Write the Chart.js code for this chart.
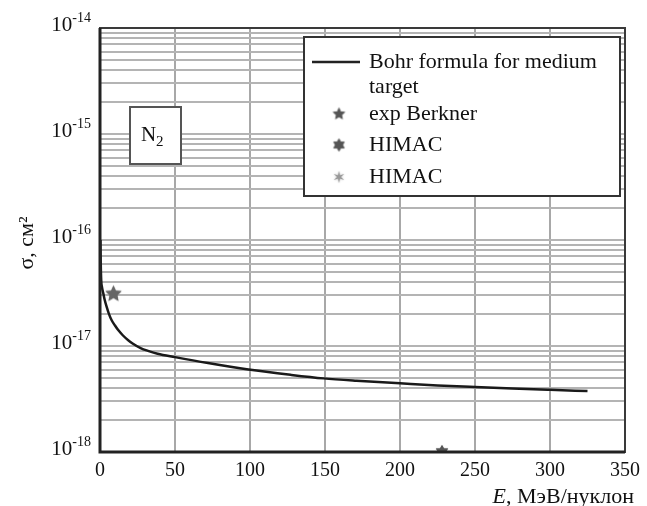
<!DOCTYPE html>
<html>
<head>
<meta charset="utf-8">
<script src="https://cdn.jsdelivr.net/npm/chart.js@4"></script>
<style>
  html, body { margin: 0; padding: 0; background: #fff; }
  #wrap { width: 647px; height: 506px; position: relative; }
</style>
</head>
<body>
<div id="wrap"><canvas id="sigmaChart" width="647" height="506"></canvas></div>
<script>
// Bohr formula curve, E in MeV/nucleon, sigma in cm^2
const bohrE = [0.3, 0.5, 0.8, 1.3, 2.2, 3.2, 4.4, 6, 7.7, 10, 12, 15, 18.6, 22, 27.4, 32, 38.4, 50, 72, 99, 127, 149, 171, 200, 225, 250, 275, 300, 325];
const bohrSigma = [1e-16, 6.0e-17, 4.2e-17, 3.6e-17, 3.14e-17, 2.7e-17, 2.35e-17, 2.0e-17, 1.76e-17, 1.56e-17, 1.42e-17, 1.27e-17, 1.14e-17, 1.05e-17, 9.5e-18, 9.0e-18, 8.45e-18, 7.85e-18, 6.9e-18, 6.0e-18, 5.35e-18, 4.95e-18, 4.7e-18, 4.45e-18, 4.25e-18, 4.1e-18, 3.97e-18, 3.86e-18, 3.76e-18];

// experimental points
const berknerE = [9];
const berknerSigma = [3.1e-17];
const himacE = [228];
const himacSigma = [1.0e-18];
const himac2E = [];
const himac2Sigma = [];

const seriesLabels = ['Bohr formula for medium target', 'exp Berkner', 'HIMAC', 'HIMAC'];
const xTicks = [0, 50, 100, 150, 200, 250, 300, 350];
const yDecades = [-18, -17, -16, -15, -14];
const yMantissas = [1, 2, 3, 4, 5, 6, 7, 8, 9];

const SERIF = '"Liberation Serif", "Times New Roman", serif';

// little bitmap markers for the stars
function makeStar(n, outer, inner, color, blur) {
  const c = document.createElement('canvas');
  const s = Math.ceil(outer * 2 + 4);
  c.width = s; c.height = s;
  const g = c.getContext('2d');
  g.fillStyle = color;
  if (blur) { g.shadowColor = color; g.shadowBlur = blur; }
  g.beginPath();
  for (let i = 0; i < n * 2; i++) {
    const r = i % 2 === 0 ? outer : inner;
    const a = -Math.PI / 2 + i * Math.PI / n;
    const px = s / 2 + r * Math.cos(a), py = s / 2 + r * Math.sin(a);
    i === 0 ? g.moveTo(px, py) : g.lineTo(px, py);
  }
  g.closePath();
  g.fill();
  return c;
}
const starBerkner = makeStar(5, 8.5, 4, '#666', 1);
const starHimac = makeStar(6, 7, 4, '#555', 1);
const starHimac2 = makeStar(6, 6, 2, '#9a9a9a', 2);
const legStar1 = makeStar(5, 6.5, 3, '#555', 1);
const legStar2 = makeStar(6, 6.5, 3.8, '#555', 1);
const legStar3 = makeStar(6, 6, 1.8, '#999', 2);

const toPts = (xs, ys) => xs.map((v, i) => ({ x: v, y: ys[i] }));

const overlay = {
  id: 'overlay',
  afterDraw(chart) {
    const { ctx, chartArea: a, scales: { y } } = chart;
    ctx.save();

    // plot frame
    ctx.strokeStyle = '#3a3a3a';
    ctx.lineWidth = 2;
    ctx.strokeRect(a.left, a.top, a.right - a.left, a.bottom - a.top);
    ctx.lineWidth = 3;
    ctx.strokeStyle = '#222';
    ctx.beginPath(); ctx.moveTo(a.left, a.top); ctx.lineTo(a.left, a.bottom); ctx.lineTo(a.right, a.bottom); ctx.stroke();

    // y tick labels 10^n
    ctx.fillStyle = '#111';
    ctx.textBaseline = 'middle';
    ctx.textAlign = 'right';
    yDecades.forEach(e => {
      const py = y.getPixelForValue(Math.pow(10, e));
      ctx.font = '14px ' + SERIF;
      const exp = String(e);
      const ew = ctx.measureText(exp).width;
      ctx.fillText(exp, a.left - 9, py - 10);
      ctx.font = '21px ' + SERIF;
      ctx.fillText('10', a.left - 9 - ew, py - 3);
    });

    // y axis title
    ctx.save();
    ctx.translate(27, 243);
    ctx.rotate(-Math.PI / 2);
    ctx.textAlign = 'center';
    ctx.font = '22px ' + SERIF;
    ctx.fillText('σ, см²', 0, 0);
    ctx.restore();

    // x axis title, E in italic
    ctx.textAlign = 'left';
    ctx.textBaseline = 'alphabetic';
    ctx.font = '22px ' + SERIF;
    const rest = ', МэВ/нуклон';
    const rw = ctx.measureText(rest).width;
    ctx.font = 'italic 22px ' + SERIF;
    const ewid = ctx.measureText('E').width;
    const xs = 634 - rw - ewid;
    ctx.fillText('E', xs, 503);
    ctx.font = '22px ' + SERIF;
    ctx.fillText(rest, xs + ewid, 503);

    // N2 label box
    const bx = a.left + 30, by = a.top + 79;
    ctx.fillStyle = '#fff';
    ctx.fillRect(bx, by, 51, 57);
    ctx.strokeStyle = '#555';
    ctx.lineWidth = 2;
    ctx.strokeRect(bx, by, 51, 57);
    ctx.fillStyle = '#111';
    ctx.font = '21px ' + SERIF;
    ctx.fillText('N', bx + 11, by + 34);
    ctx.font = '15px ' + SERIF;
    ctx.fillText('2', bx + 26, by + 39);

    // legend box
    const lx = 304, ly = 37, lw = 316, lh = 159;
    ctx.fillStyle = '#fff';
    ctx.fillRect(lx, ly, lw, lh);
    ctx.strokeStyle = '#333';
    ctx.lineWidth = 2;
    ctx.strokeRect(lx, ly, lw, lh);
    ctx.fillStyle = '#111';
    ctx.font = '22px ' + SERIF;
    ctx.textBaseline = 'middle';
    ctx.strokeStyle = '#222';
    ctx.lineWidth = 2.5;
    ctx.beginPath(); ctx.moveTo(312, 62); ctx.lineTo(360, 62); ctx.stroke();
    const words = seriesLabels[0].split(' ');
    ctx.fillText(words.slice(0, 4).join(' '), 369, 62);
    ctx.fillText(words.slice(4).join(' '), 369, 87);
    const marks = [legStar1, legStar2, legStar3];
    const rowsY = [114, 145, 177];
    [1, 2, 3].forEach((k, i) => {
      const m = marks[i];
      ctx.drawImage(m, 339 - m.width / 2, rowsY[i] - m.height / 2);
      ctx.fillText(seriesLabels[k], 369, rowsY[i]);
    });

    ctx.restore();
  }
};

new Chart(document.getElementById('sigmaChart'), {
  type: 'scatter',
  data: {
    datasets: [
      {
        label: seriesLabels[0],
        data: toPts(bohrE, bohrSigma),
        showLine: true,
        borderColor: '#1a1a1a',
        borderWidth: 2.5,
        pointRadius: 0,
        cubicInterpolationMode: 'monotone'
      },
      {
        label: seriesLabels[1],
        data: toPts(berknerE, berknerSigma),
        pointStyle: starBerkner
      },
      {
        label: seriesLabels[2],
        data: toPts(himacE, himacSigma),
        pointStyle: starHimac
      },
      {
        label: seriesLabels[3],
        data: toPts(himac2E, himac2Sigma),
        pointStyle: starHimac2
      }
    ]
  },
  options: {
    responsive: false,
    animation: false,
    layout: { padding: { top: 28, right: 15, left: 0, bottom: 0 } },
    plugins: { legend: { display: false }, tooltip: { enabled: false } },
    scales: {
      x: {
        type: 'linear',
        min: 0,
        max: 350,
        afterBuildTicks: s => { s.ticks = xTicks.map(v => ({ value: v })); },
        afterFit: s => { s.height = 54; },
        border: { display: false },
        grid: { color: '#a8a8a8', lineWidth: 2, drawTicks: false },
        ticks: { color: '#111', font: { family: SERIF, size: 20 }, padding: 7 }
      },
      y: {
        type: 'logarithmic',
        min: 1e-18,
        max: 1e-14,
        afterBuildTicks: s => {
          const t = [];
          yDecades.slice(0, -1).forEach(e => yMantissas.forEach(m => t.push({ value: m * Math.pow(10, e) })));
          t.push({ value: Math.pow(10, yDecades[yDecades.length - 1]) });
          s.ticks = t;
        },
        afterFit: s => { s.width = 100; },
        border: { display: false },
        grid: { color: '#b4b4b4', lineWidth: 2, drawTicks: false },
        ticks: { display: false }
      }
    }
  },
  plugins: [overlay]
});
</script>
</body>
</html>
